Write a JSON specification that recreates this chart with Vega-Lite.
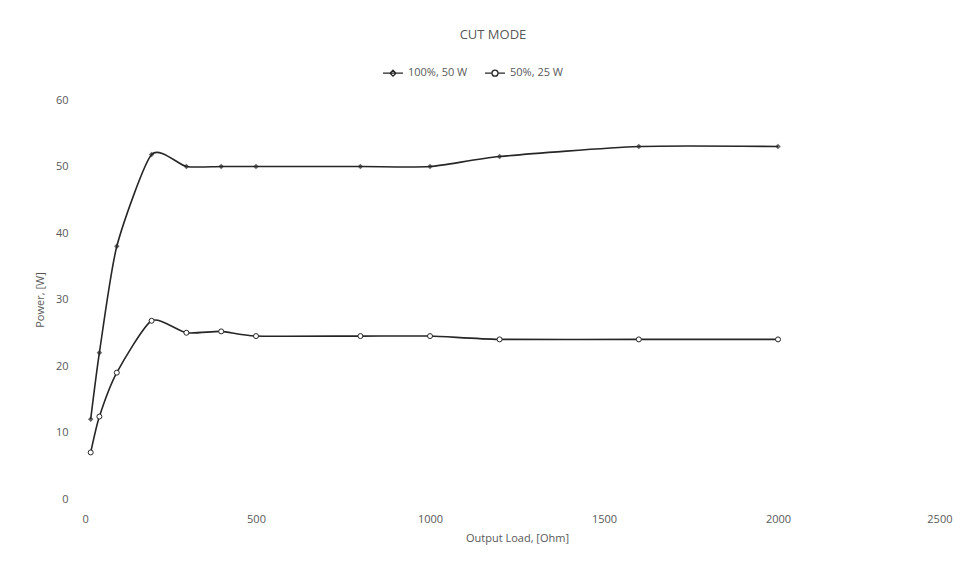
{
  "$schema": "https://vega.github.io/schema/vega-lite/v6.json",
  "width": 870,
  "height": 399,
  "autosize": {"type": "none"},
  "padding": {"left": 82, "top": 100, "right": 23, "bottom": 68},
  "background": "white",
  "config": {
    "font": "Open Sans",
    "view": {"stroke": null},
    "axis": {"labelColor": "#595959", "titleColor": "#595959", "labelFont": "Open Sans", "titleFont": "Open Sans", "labelFontSize": 11, "titleFontSize": 11, "titleFontWeight": "normal", "grid": false, "ticks": false, "domain": false},
    "legend": {"labelColor": "#595959", "labelFont": "Open Sans", "labelFontSize": 11}
  },
  "title": {"text": "CUT MODE", "anchor": "middle", "dx": -24, "offset": 20, "fontSize": 13, "fontWeight": "normal", "color": "#595959", "font": "Open Sans"},
  "data": {"values": [
    {"load": 25, "power": 12, "series": "100%, 50 W"},
    {"load": 50, "power": 22, "series": "100%, 50 W"},
    {"load": 100, "power": 38, "series": "100%, 50 W"},
    {"load": 200, "power": 51.8, "series": "100%, 50 W"},
    {"load": 300, "power": 50, "series": "100%, 50 W"},
    {"load": 400, "power": 50, "series": "100%, 50 W"},
    {"load": 500, "power": 50, "series": "100%, 50 W"},
    {"load": 800, "power": 50, "series": "100%, 50 W"},
    {"load": 1000, "power": 50, "series": "100%, 50 W"},
    {"load": 1200, "power": 51.5, "series": "100%, 50 W"},
    {"load": 1600, "power": 53, "series": "100%, 50 W"},
    {"load": 2000, "power": 53, "series": "100%, 50 W"},
    {"load": 25, "power": 7, "series": "50%, 25 W"},
    {"load": 50, "power": 12.4, "series": "50%, 25 W"},
    {"load": 100, "power": 19, "series": "50%, 25 W"},
    {"load": 200, "power": 26.8, "series": "50%, 25 W"},
    {"load": 300, "power": 25, "series": "50%, 25 W"},
    {"load": 400, "power": 25.2, "series": "50%, 25 W"},
    {"load": 500, "power": 24.5, "series": "50%, 25 W"},
    {"load": 800, "power": 24.5, "series": "50%, 25 W"},
    {"load": 1000, "power": 24.5, "series": "50%, 25 W"},
    {"load": 1200, "power": 24, "series": "50%, 25 W"},
    {"load": 1600, "power": 24, "series": "50%, 25 W"},
    {"load": 2000, "power": 24, "series": "50%, 25 W"}
  ]},
  "encoding": {
    "x": {"field": "load", "type": "quantitative", "title": "Output Load, [Ohm]", "scale": {"domain": [0, 2500], "nice": false}, "axis": {"values": [0, 500, 1000, 1500, 2000, 2500], "format": "d", "labelPadding": 14, "titlePadding": 8}},
    "y": {"field": "power", "type": "quantitative", "title": "Power, [W]", "scale": {"domain": [0, 60], "nice": false}, "axis": {"values": [0, 10, 20, 30, 40, 50, 60], "labelPadding": 14, "titlePadding": 10}}
  },
  "layer": [
    {
      "mark": {"type": "line", "interpolate": "cardinal", "tension": 0.35, "color": "#262626", "strokeWidth": 1.6},
      "encoding": {"detail": {"field": "series"}}
    },
    {
      "transform": [{"filter": "datum.series == '100%, 50 W'"}],
      "mark": {"type": "point", "shape": "diamond", "filled": true, "color": "#262626", "size": 30}
    },
    {
      "transform": [{"filter": "datum.series == '50%, 25 W'"}],
      "mark": {"type": "point", "shape": "circle", "filled": false, "fill": "white", "stroke": "#262626", "strokeWidth": 1, "size": 25, "fillOpacity": 1}
    },
    {
      "mark": {"type": "point", "opacity": 0, "stroke": "#262626", "strokeWidth": 1.2},
      "encoding": {
        "shape": {"field": "series", "type": "nominal", "scale": {"domain": ["100%, 50 W", "50%, 25 W"], "range": ["M-1,0H1M0,-0.3L0.3,0L0,0.3L-0.3,0Z", "M-1,0H-0.3M0.3,0H1M0.3,0A0.3,0.3 0 1 1 -0.3,0A0.3,0.3 0 1 1 0.3,0"]},
          "legend": {"title": null, "orient": "none", "direction": "horizontal", "legendX": 300, "legendY": -38, "symbolOpacity": 1, "symbolSize": 400, "symbolStrokeColor": "#262626", "symbolStrokeWidth": 1.3, "symbolFillColor": "#262626", "labelOffset": 4, "columnPadding": 14}}
      }
    }
  ]
}
